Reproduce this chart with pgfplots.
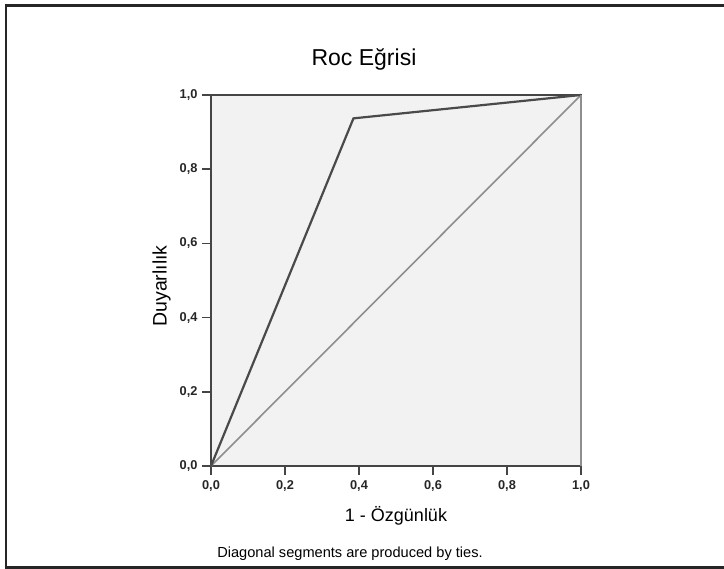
\documentclass[border=0pt]{standalone}
\usepackage{pgfplots}
\pgfplotsset{compat=1.18}
\usepackage{fontspec}
\setmainfont{Liberation Sans}
\definecolor{curve}{HTML}{4A4A4A}
\definecolor{diag}{HTML}{8E8E8E}
\definecolor{bgfill}{HTML}{F2F2F2}
\definecolor{axcol}{HTML}{454545}
\begin{document}
\begin{tikzpicture}[x=1bp,y=1bp]
\useasboundingbox (0,0) rectangle (724,569);
% outer frame (left, top, bottom)
\draw[line width=2.2bp, color=black!85] (724,563.5) -- (6,563.5) -- (6,1.5) -- (724,1.5);
\begin{axis}[
  at={(211bp,103bp)}, anchor=south west,
  scale only axis, width=370bp, height=371bp,
  xmin=0, xmax=1, ymin=0, ymax=1,
  xtick={0,0.2,0.4,0.6,0.8,1}, ytick={0,0.2,0.4,0.6,0.8,1},
  xtick pos=bottom, ytick pos=left,
  tick align=outside, major tick length=9bp,
  every tick/.style={line width=1.6bp, color=axcol},
  axis line style={line width=1.6bp, color=axcol},
  axis background/.style={fill=bgfill},
  /pgf/number format/assume math mode=true,
  /pgf/number format/.cd, use comma, fixed, fixed zerofill, precision=1,
  /pgfplots/.cd,
  ticklabel style={font=\fontsize{12.8bp}{15bp}\selectfont\bfseries, color=black!85},
  xticklabel style={yshift=-2bp},
  yticklabel style={xshift=-1bp},
  clip=false,
]
\addplot[diag, line width=1.6bp] coordinates {(0,0) (1,1)};
\addplot[curve, line width=2.2bp] coordinates {(0,0) (0.385,0.937) (1,1)};
\draw[diag, line width=1.6bp] (axis cs:1,0) -- (axis cs:1,1);
\end{axis}
\node[anchor=base, font=\fontsize{23bp}{27bp}\selectfont] at (364,503) {Roc Eğrisi};
\node[anchor=base, font=\fontsize{18bp}{21bp}\selectfont] at (396,47.3) {1 - Özgünlük};
\node[anchor=base, rotate=90, font=\fontsize{19.5bp}{23bp}\selectfont] at (166.5,283) {Duyarlılık};
\node[anchor=base, font=\fontsize{14.6bp}{17bp}\selectfont] at (350,11) {Diagonal segments are produced by ties.};
\end{tikzpicture}
\end{document}
